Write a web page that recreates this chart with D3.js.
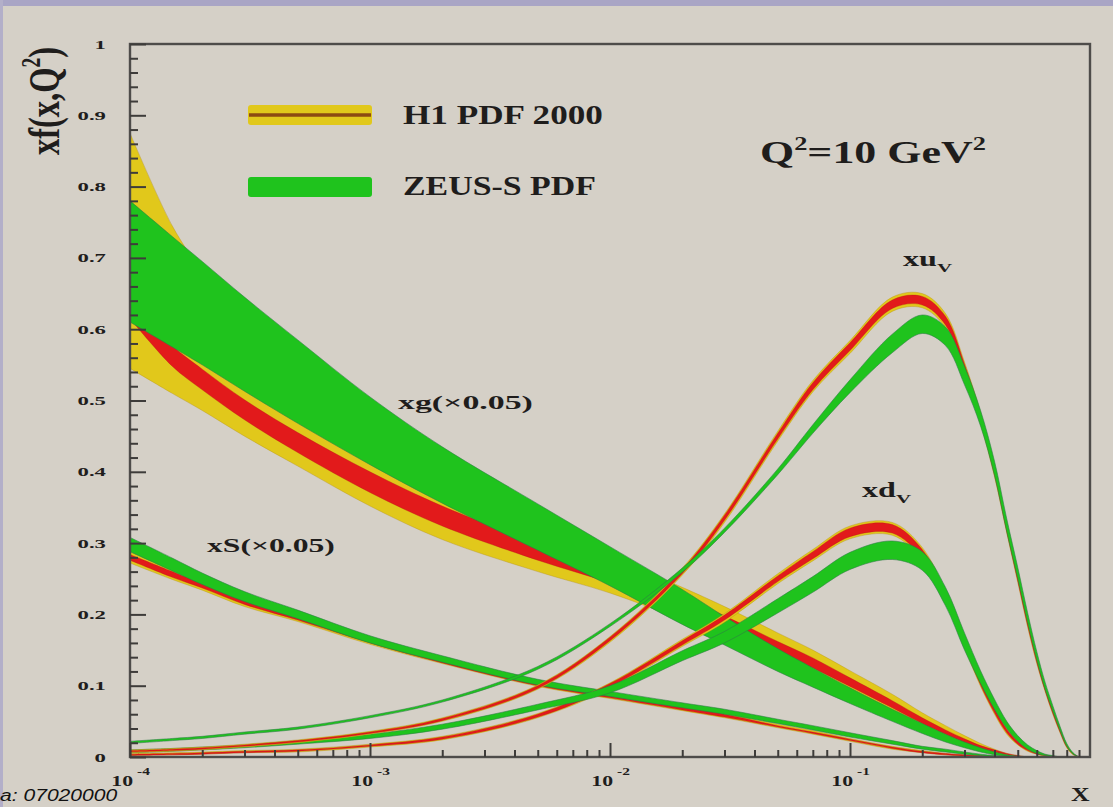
<!DOCTYPE html>
<html>
<head>
<meta charset="utf-8">
<script src="https://cdn.jsdelivr.net/npm/d3@7"></script>
<style>
  html, body { margin: 0; padding: 0; background: #d5d0c7; }
  svg { display: block; }
</style>
</head>
<body>
<svg id="chart" width="1113" height="807"></svg>
<script>
// ---- Parton distributions xf(x, Q^2) at Q^2 = 10 GeV^2 ----
// Shared x nodes for every band
const xGrid = [1e-4, 1.5e-4, 2e-4, 3e-4, 5e-4, 1e-3, 2e-3, 5e-3, 0.01, 0.02, 0.03, 0.05, 0.07, 0.1, 0.15,
               0.2, 0.25, 0.3, 0.35, 0.4, 0.45, 0.5, 0.55, 0.6, 0.65, 0.7, 0.75, 0.8, 0.85, 0.9];

// Gluon xg (scaled by 0.05)
const xgZeusLo  = [0.610, 0.575, 0.550, 0.513, 0.468, 0.410, 0.356, 0.290, 0.240, 0.186, 0.157, 0.120, 0.098, 0.075, 0.050, 0.033, 0.021, 0.013, 0.007, 0.003, 0.001, 0, 0, 0, 0, 0, 0, 0, 0, 0];
const xgZeusHi  = [0.780, 0.730, 0.695, 0.645, 0.585, 0.505, 0.435, 0.355, 0.295, 0.235, 0.197, 0.152, 0.125, 0.097, 0.067, 0.047, 0.032, 0.021, 0.013, 0.007, 0.003, 0.001, 0, 0, 0, 0, 0, 0, 0, 0];
const xgH1TotLo = [0.545, 0.510, 0.486, 0.450, 0.408, 0.352, 0.305, 0.260, 0.230, 0.192, 0.168, 0.135, 0.115, 0.091, 0.062, 0.041, 0.027, 0.016, 0.009, 0.004, 0.001, 0, 0, 0, 0, 0, 0, 0, 0, 0];
const xgH1TotHi = [0.875, 0.745, 0.680, 0.600, 0.520, 0.440, 0.378, 0.320, 0.282, 0.238, 0.211, 0.174, 0.150, 0.121, 0.088, 0.062, 0.044, 0.030, 0.019, 0.011, 0.005, 0.002, 0, 0, 0, 0, 0, 0, 0, 0];
const xgH1ExpLo = [0.615, 0.548, 0.515, 0.473, 0.427, 0.371, 0.324, 0.276, 0.244, 0.205, 0.180, 0.146, 0.125, 0.099, 0.069, 0.047, 0.032, 0.0205, 0.012, 0.007, 0.003, 0.001, 0, 0, 0, 0, 0, 0, 0, 0];
const xgH1ExpHi = [0.645, 0.577, 0.544, 0.501, 0.455, 0.400, 0.352, 0.300, 0.266, 0.225, 0.198, 0.162, 0.139, 0.111, 0.079, 0.055, 0.038, 0.0255, 0.016, 0.010, 0.005, 0.002, 0, 0, 0, 0, 0, 0, 0, 0];

// Sea xS (scaled by 0.05)
const xsZeusLo  = [0.288, 0.261, 0.242, 0.218, 0.194, 0.160, 0.133, 0.101, 0.085, 0.069, 0.060, 0.047, 0.038, 0.028, 0.018, 0.011, 0.007, 0.004, 0.002, 0.000, 0, 0, 0, 0, 0, 0, 0, 0, 0, 0];
const xsZeusHi  = [0.308, 0.279, 0.258, 0.232, 0.206, 0.170, 0.142, 0.109, 0.092, 0.076, 0.067, 0.053, 0.044, 0.034, 0.023, 0.015, 0.011, 0.007, 0.004, 0.002, 0.001, 0, 0, 0, 0, 0, 0, 0, 0, 0];
const xsH1TotLo = [0.272, 0.249, 0.234, 0.211, 0.190, 0.158, 0.131, 0.099, 0.082, 0.065, 0.055, 0.041, 0.032, 0.022, 0.011, 0.006, 0.003, 0.001, 0, 0, 0, 0, 0, 0, 0, 0, 0, 0, 0, 0];
const xsH1TotHi = [0.288, 0.263, 0.247, 0.223, 0.200, 0.166, 0.138, 0.105, 0.088, 0.071, 0.061, 0.046, 0.037, 0.026, 0.015, 0.009, 0.005, 0.003, 0.002, 0.001, 0, 0, 0, 0, 0, 0, 0, 0, 0, 0];
const xsH1ExpLo = [0.276, 0.252, 0.237, 0.214, 0.192, 0.160, 0.132, 0.100, 0.083, 0.066, 0.056, 0.042, 0.033, 0.023, 0.012, 0.006, 0.003, 0.001, 0, 0, 0, 0, 0, 0, 0, 0, 0, 0, 0, 0];
const xsH1ExpHi = [0.284, 0.260, 0.243, 0.220, 0.198, 0.164, 0.136, 0.104, 0.087, 0.070, 0.060, 0.044, 0.035, 0.025, 0.014, 0.008, 0.005, 0.003, 0.002, 0.001, 0, 0, 0, 0, 0, 0, 0, 0, 0, 0];

// Valence up xu_v
const xuZeusLo  = [0.019, 0.023, 0.026, 0.032, 0.039, 0.055, 0.077, 0.123, 0.183, 0.259, 0.315, 0.396, 0.454, 0.511, 0.567, 0.594, 0.577, 0.522, 0.464, 0.395, 0.316, 0.250, 0.188, 0.136, 0.095, 0.064, 0.037, 0.015, 0.004, 0];
const xuZeusHi  = [0.022, 0.026, 0.029, 0.035, 0.042, 0.058, 0.080, 0.127, 0.187, 0.265, 0.321, 0.404, 0.466, 0.529, 0.593, 0.620, 0.603, 0.548, 0.486, 0.415, 0.334, 0.266, 0.202, 0.148, 0.105, 0.072, 0.043, 0.019, 0.006, 0];
const xuH1TotLo = [0.006, 0.008, 0.010, 0.014, 0.020, 0.032, 0.050, 0.095, 0.161, 0.255, 0.329, 0.443, 0.512, 0.566, 0.625, 0.630, 0.602, 0.536, 0.467, 0.393, 0.314, 0.245, 0.182, 0.131, 0.092, 0.060, 0.034, 0.013, 0.003, 0];
const xuH1TotHi = [0.010, 0.012, 0.014, 0.018, 0.024, 0.036, 0.055, 0.101, 0.169, 0.265, 0.341, 0.457, 0.528, 0.584, 0.645, 0.650, 0.622, 0.554, 0.483, 0.407, 0.326, 0.255, 0.190, 0.139, 0.098, 0.066, 0.038, 0.017, 0.005, 0];
const xuH1ExpLo = [0.007, 0.009, 0.011, 0.015, 0.021, 0.033, 0.051, 0.096, 0.163, 0.257, 0.332, 0.446, 0.515, 0.570, 0.629, 0.634, 0.606, 0.540, 0.470, 0.396, 0.316, 0.247, 0.184, 0.133, 0.093, 0.061, 0.035, 0.014, 0.004, 0];
const xuH1ExpHi = [0.009, 0.011, 0.013, 0.017, 0.023, 0.035, 0.054, 0.100, 0.168, 0.263, 0.339, 0.454, 0.525, 0.581, 0.641, 0.646, 0.618, 0.551, 0.480, 0.405, 0.324, 0.253, 0.189, 0.138, 0.097, 0.065, 0.038, 0.016, 0.005, 0];

// Valence down xd_v
const xdZeusLo  = [0.006, 0.008, 0.010, 0.013, 0.018, 0.026, 0.039, 0.066, 0.090, 0.135, 0.160, 0.202, 0.231, 0.263, 0.277, 0.262, 0.212, 0.150, 0.103, 0.067, 0.040, 0.022, 0.011, 0.005, 0.002, 0.001, 0, 0, 0, 0];
const xdZeusHi  = [0.010, 0.012, 0.014, 0.017, 0.023, 0.032, 0.046, 0.074, 0.100, 0.149, 0.176, 0.222, 0.253, 0.287, 0.303, 0.288, 0.238, 0.174, 0.121, 0.081, 0.050, 0.030, 0.017, 0.009, 0.004, 0.002, 0, 0, 0, 0];
const xdH1TotLo = [0.002, 0.003, 0.004, 0.006, 0.007, 0.014, 0.024, 0.055, 0.096, 0.155, 0.189, 0.243, 0.275, 0.306, 0.311, 0.276, 0.217, 0.153, 0.099, 0.060, 0.032, 0.017, 0.008, 0.004, 0.001, 0, 0, 0, 0, 0];
const xdH1TotHi = [0.005, 0.006, 0.007, 0.009, 0.011, 0.018, 0.029, 0.061, 0.104, 0.165, 0.201, 0.257, 0.291, 0.324, 0.329, 0.294, 0.233, 0.167, 0.111, 0.070, 0.040, 0.023, 0.012, 0.007, 0.003, 0, 0, 0, 0, 0];
const xdH1ExpLo = [0.002, 0.003, 0.004, 0.006, 0.008, 0.015, 0.025, 0.056, 0.098, 0.157, 0.192, 0.246, 0.278, 0.309, 0.314, 0.279, 0.220, 0.156, 0.101, 0.062, 0.034, 0.018, 0.009, 0.004, 0.002, 0, 0, 0, 0, 0];
const xdH1ExpHi = [0.004, 0.005, 0.006, 0.008, 0.010, 0.017, 0.028, 0.060, 0.103, 0.163, 0.199, 0.254, 0.288, 0.321, 0.326, 0.291, 0.230, 0.165, 0.109, 0.068, 0.039, 0.022, 0.011, 0.006, 0.003, 0, 0, 0, 0, 0];

// Axis ticks and labels
const yTickValues = [0, 0.1, 0.2, 0.3, 0.4, 0.5, 0.6, 0.7, 0.8, 0.9, 1];
const yTickLabels = ["0", "0.1", "0.2", "0.3", "0.4", "0.5", "0.6", "0.7", "0.8", "0.9", "1"];
const xTickValues = [1e-4, 1e-3, 1e-2, 1e-1];
const xTickExponents = ["-4", "-3", "-2", "-1"];

// Legend entries
const legendLabels = ["H1 PDF 2000", "ZEUS-S PDF"];

// ---- Drawing ----
const W = 1113, H = 807;
const plot = { left: 130, right: 1090, top: 44, bottom: 757 };
const colors = { yellow: "#e1c81b", red: "#e21a1b", green: "#1fc31d", ink: "#1f1d1c", frame: "#4e4c4a" };
const SERIF = "'Liberation Serif', 'Times New Roman', serif";

const svg = d3.select("#chart");
const x = d3.scaleLog().domain([1e-4, 1]).range([plot.left, plot.right]);
const y = d3.scaleLinear().domain([0, 1]).range([plot.bottom, plot.top]);

// page background with the slide's lavender edges
svg.append("rect").attr("width", W).attr("height", H).attr("fill", "#d5d0c7");
svg.append("rect").attr("width", W).attr("height", 6).attr("fill", "#a9a5c5");
svg.append("rect").attr("width", 3).attr("height", H).attr("fill", "#b3afc9");

svg.append("defs").append("clipPath").attr("id", "plotClip")
  .append("rect").attr("x", plot.left).attr("y", plot.top)
  .attr("width", plot.right - plot.left).attr("height", plot.bottom - plot.top);

// text helper: bold serif, horizontally fitted to a given width
function putText(parent, o) {
  const g = parent.append("g");
  const t = g.append("text")
    .attr("font-family", o.family || SERIF)
    .attr("font-weight", o.weight || "bold")
    .attr("font-size", o.size)
    .attr("fill", o.fill || colors.ink)
    .attr("text-anchor", o.anchor || "start");
  if (o.style) t.attr("font-style", o.style);
  (o.parts || [{ t: o.text }]).forEach(p => {
    const s = t.append("tspan").text(p.t);
    if (p.dy) s.attr("dy", p.dy);
    if (p.scale) s.attr("font-size", o.size * p.scale);
  });
  let sx = o.sx || 1;
  if (o.width) sx = o.width / t.node().getBBox().width;
  g.attr("transform", `translate(${o.x},${o.y})${o.rotate ? ` rotate(${o.rotate})` : ""} scale(${sx},${o.sy || 1})`);
  return g;
}

// bands
const bandArea = d3.area()
  .x(d => x(d.x)).y0(d => y(d.lo)).y1(d => y(d.hi))
  .curve(d3.curveCatmullRom.alpha(0.5));

function rows(lo, hi) {
  let last = 0;
  hi.forEach((v, i) => { if (v > 0) last = i; });
  const end = Math.min(last + 1, xGrid.length - 1);
  return xGrid.slice(0, end + 1).map((xv, i) => ({ x: xv, lo: lo[i], hi: hi[i] }));
}

const styles = {
  h1Total: { fill: colors.yellow, stroke: "#b79318", width: 0.5 },
  h1Exp:   { fill: colors.red,    stroke: "#b01414", width: 0.4 },
  zeus:    { fill: colors.green,  stroke: "#2f7a48", width: 0.7 }
};

const layers = svg.append("g").attr("clip-path", "url(#plotClip)");
function band(lo, hi, st) {
  layers.append("path").datum(rows(lo, hi))
    .attr("d", bandArea)
    .attr("fill", st.fill)
    .attr("stroke", st.stroke)
    .attr("stroke-width", st.width)
    .attr("stroke-opacity", 0.8)
    .attr("stroke-linejoin", "round");
}

[
  [xgH1TotLo, xgH1TotHi, xgH1ExpLo, xgH1ExpHi, xgZeusLo, xgZeusHi],
  [xsH1TotLo, xsH1TotHi, xsH1ExpLo, xsH1ExpHi, xsZeusLo, xsZeusHi],
  [xdH1TotLo, xdH1TotHi, xdH1ExpLo, xdH1ExpHi, xdZeusLo, xdZeusHi],
  [xuH1TotLo, xuH1TotHi, xuH1ExpLo, xuH1ExpHi, xuZeusLo, xuZeusHi]
].forEach(([tl, th, el, eh, zl, zh]) => {
  band(tl, th, styles.h1Total);
  band(el, eh, styles.h1Exp);
  band(zl, zh, styles.zeus);
});

// frame
svg.append("rect")
  .attr("x", plot.left).attr("y", plot.top)
  .attr("width", plot.right - plot.left).attr("height", plot.bottom - plot.top)
  .attr("fill", "none").attr("stroke", colors.frame).attr("stroke-width", 2.4);

// ticks (drawn inward)
function styleTicks(g) {
  g.select(".domain").remove();
  g.selectAll(".tick line").attr("stroke", "#3e3c3a").attr("stroke-width", 2);
  g.selectAll(".tick text").remove();
}
const yMinor = d3.range(0, 50).map(i => i * 0.02).filter(v => Math.round(v * 50) % 5 !== 0);
svg.append("g").attr("transform", `translate(${plot.left},0)`)
  .call(d3.axisLeft(y).tickValues(yTickValues).tickSize(-16).tickFormat(() => "")).call(styleTicks);
svg.append("g").attr("transform", `translate(${plot.left},0)`)
  .call(d3.axisLeft(y).tickValues(yMinor).tickSize(-8).tickFormat(() => "")).call(styleTicks);

const xMinor = [];
[-4, -3, -2, -1].forEach(k => d3.range(2, 10).forEach(m => xMinor.push(m * Math.pow(10, k))));
svg.append("g").attr("transform", `translate(0,${plot.bottom})`)
  .call(d3.axisBottom(x).tickValues(xTickValues).tickSize(-14).tickFormat(() => "")).call(styleTicks);
svg.append("g").attr("transform", `translate(0,${plot.bottom})`)
  .call(d3.axisBottom(x).tickValues(xMinor).tickSize(-7).tickFormat(() => "")).call(styleTicks);

// tick labels
const labels = svg.append("g");
yTickValues.forEach((v, i) => {
  putText(labels, { x: 106, y: y(v) + 4.5, text: yTickLabels[i], size: 13, anchor: "end", sx: 1.75 });
});
xTickValues.forEach((v, i) => {
  putText(labels, { x: x(v) + 3, y: 786, text: "10", size: 15, anchor: "end", sx: 1.45 });
  putText(labels, { x: x(v) + 7, y: 775, text: xTickExponents[i], size: 11, sx: 1.4 });
});

// axis titles
putText(labels, { x: 59, y: 155, rotate: -90, size: 28, width: 108, sy: 1.6,
  parts: [{ t: "xf(x,Q" }, { t: "2", dy: -12, scale: 0.6 }, { t: ")", dy: 12 }] });
putText(labels, { x: 1071, y: 801, text: "X", size: 19, width: 19 });

// legend
const legend = svg.append("g");
legend.append("rect").attr("x", 248).attr("y", 105).attr("width", 124).attr("height", 20)
  .attr("rx", 3).attr("fill", colors.yellow);
legend.append("line").attr("x1", 249).attr("x2", 371).attr("y1", 115).attr("y2", 115)
  .attr("stroke", "#8c4a12").attr("stroke-width", 3.5);
legend.append("rect").attr("x", 248).attr("y", 177).attr("width", 124).attr("height", 20)
  .attr("rx", 3).attr("fill", colors.green);
putText(legend, { x: 403, y: 124, text: legendLabels[0], size: 27, width: 200 });
putText(legend, { x: 403, y: 195, text: legendLabels[1], size: 27, width: 193 });

// scale and curve annotations
putText(labels, { x: 760, y: 163, size: 31, width: 226,
  parts: [{ t: "Q" }, { t: "2", dy: -13, scale: 0.6 }, { t: "=10 GeV", dy: 13 }, { t: "2", dy: -13, scale: 0.6 }] });
putText(labels, { x: 903, y: 266, size: 20, width: 50, parts: [{ t: "xu" }, { t: "V", dy: 6, scale: 0.65 }] });
putText(labels, { x: 862, y: 497, size: 20, width: 50, parts: [{ t: "xd" }, { t: "V", dy: 6, scale: 0.65 }] });
putText(labels, { x: 398, y: 409, text: "xg(×0.05)", size: 19, width: 135 });
putText(labels, { x: 207, y: 552, text: "xS(×0.05)", size: 19, width: 128 });

// slide caption at the lower left
putText(labels, { x: 0, y: 801, text: "a: 07020000", size: 17, weight: "normal", style: "italic",
  family: "'Liberation Sans', Arial, sans-serif", width: 118, fill: "#111" });
</script>
</body>
</html>
